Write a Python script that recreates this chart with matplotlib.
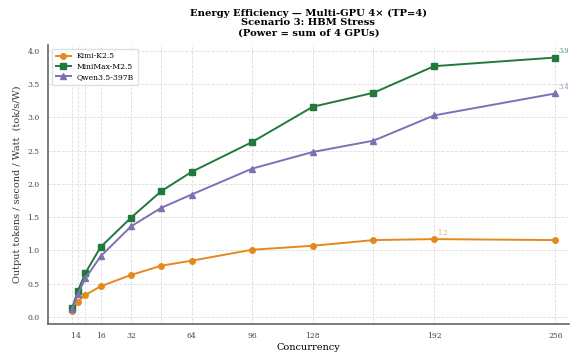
import matplotlib
matplotlib.use("Agg")
import matplotlib.pyplot as plt

concurrency = [1, 4, 8, 16, 32, 48, 64, 96, 128, 160, 192, 256]
tick_labels = [1, 4, 16, 32, 64, 96, 128, 192, 256]

kimi = [0.09, 0.23, 0.33, 0.46, 0.63, 0.77, 0.845, 1.01, 1.07, 1.155, 1.17, 1.155]
minimax = [0.13, 0.39, 0.66, 1.05, 1.49, 1.89, 2.18, 2.63, 3.16, 3.37, 3.77, 3.90]
qwen = [0.12, 0.34, 0.58, 0.91, 1.36, 1.64, 1.84, 2.23, 2.48, 2.65, 3.03, 3.36]

series = [
    ("Kimi-K2.5", kimi, "#e5891f", "o"),
    ("MiniMax-M2.5", minimax, "#217a3c", "s"),
    ("Qwen3.5-397B", qwen, "#7f70b3", "^"),
]

plt.rcParams["font.family"] = ["DejaVu Serif"]

fig = plt.figure(figsize=(5.71, 3.56), dpi=100)
ax = fig.add_axes([0.084, 0.091, 0.912, 0.783])

for name, vals, color, marker in series:
    ax.plot(concurrency, vals, color=color, marker=marker, lw=1.4, ms=4, label=name)
    # label the peak value of each model
    i = vals.index(max(vals))
    ax.annotate(f"{vals[i]:.1f}", (concurrency[i], vals[i]), xytext=(2, 3),
                textcoords="offset points", fontsize=4.8, color=color, alpha=0.75)

ax.set_xticks(tick_labels)
ax.set_xticks(concurrency, minor=True)
ax.set_xlim(-11.75, 263)
ax.tick_params(axis="both", which="both", length=0, labelsize=5.5, colors="#444444", pad=6)
ax.grid(True, which="both", ls="--", lw=0.6, color="#dddddd")
ax.set_axisbelow(True)

for s in ["top", "right"]:
    ax.spines[s].set_visible(False)
for s in ["left", "bottom"]:
    ax.spines[s].set_color("#666666")
    ax.spines[s].set_linewidth(1.2)

ax.set_xlabel("Concurrency", fontsize=7, labelpad=2)
ax.set_ylabel("Output tokens / second / Watt  (tok/s/W)", fontsize=7, color="#333333")
ax.set_title("Energy Efficiency \u2014 Multi-GPU 4\u00d7 (TP=4)\nScenario 3: HBM Stress\n(Power = sum of 4 GPUs)",
             fontsize=7.2, fontweight="bold", linespacing=1.1, pad=7)

ax.legend(loc="upper left", fontsize=5.5, frameon=True, framealpha=0.9, edgecolor="#dddddd",
          handlelength=2, borderpad=0.5, labelspacing=0.3)

fig.savefig("out.png", dpi=100)
